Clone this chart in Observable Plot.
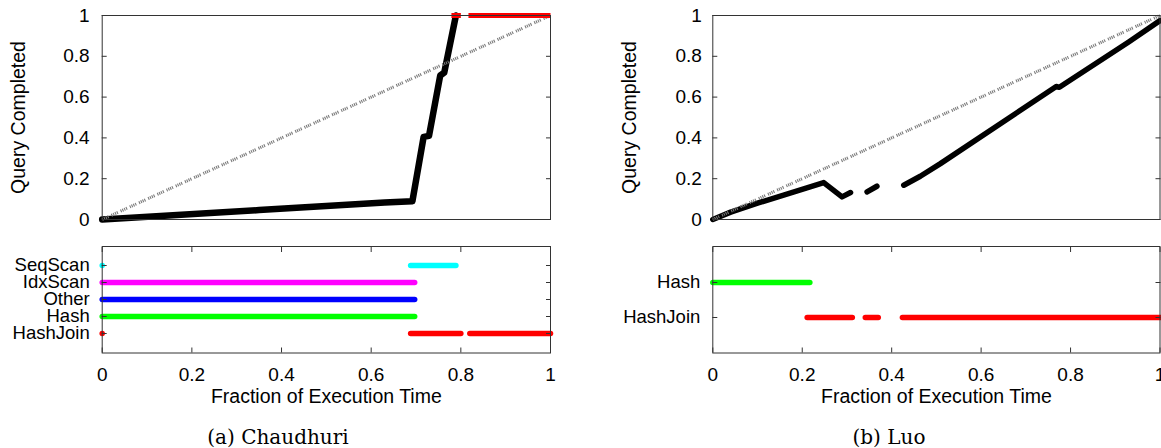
<!DOCTYPE html>
<html><head><meta charset="utf-8">
<script src="https://cdn.jsdelivr.net/npm/d3@7"></script>
<script src="https://cdn.jsdelivr.net/npm/@observablehq/plot@0.6"></script>
<style>
html,body{margin:0;padding:0;background:#fff;overflow:hidden;}
#root{position:relative;width:1161px;height:448px;overflow:hidden;background:#fff;}
.panel{position:absolute;}
.panel svg{display:block;overflow:visible;max-width:none !important;}
.caption{position:absolute;font-family:"DejaVu Serif",serif;font-size:20px;line-height:20px;color:#000;transform:translateX(-50%);white-space:nowrap;}
</style></head><body><div id="root"></div>
<script>
// ---- data ----
const ticks = [0, 0.2, 0.4, 0.6, 0.8, 1];
const diagonal = [0, 1];

const chaudhuriFrac = [0, 0.35, 0.63, 0.692, 0.717, 0.729, 0.754, 0.763, 0.789];
const chaudhuriDone = [0, 0.046, 0.083, 0.09, 0.405, 0.41, 0.706, 0.72, 1];
const chaudhuriFinishStart = [0.779, 0.817];
const chaudhuriFinishEnd = [0.8, 1];

const luoFrac = [0, 0.04, 0.1, 0.248, 0.289, 0.308, 0.345, 0.367, 0.427, 0.464, 0.509, 0.768, 0.775, 0.93, 1];
const luoDone = [0, 0.036, 0.08, 0.181, 0.111, 0.132, 0.135, 0.163, 0.168, 0.212, 0.274, 0.652, 0.648, 0.87, 0.975];
const luoPiece = [0, 0, 0, 0, 0, 0, 1, 1, 2, 2, 2, 2, 2, 2, 2];

const chaudhuriOps = ["SeqScan", "IdxScan", "Other", "Hash", "HashJoin"];
const chaudhuriOpName = ["SeqScan", "SeqScan", "IdxScan", "Other", "Hash", "HashJoin", "HashJoin", "HashJoin"];
const chaudhuriOpStart = [0, 0.688, 0, 0, 0, 0, 0.688, 0.82];
const chaudhuriOpEnd = [0, 0.789, 0.697, 0.697, 0.697, 0, 0.80, 1];

const luoOps = ["Hash", "HashJoin"];
const luoOpName = ["Hash", "HashJoin", "HashJoin", "HashJoin"];
const luoOpStart = [0, 0.211, 0.341, 0.424];
const luoOpEnd = [0.217, 0.312, 0.370, 1];

const yLabel = "Query Completed";
const xLabel = "Fraction of Execution Time";

// ---- styles ----
const opColor = {SeqScan: "#00ffff", IdxScan: "#ff00ff", Other: "#0000ff", Hash: "#00ff00", HashJoin: "#ff0000"};
const FONT = "Liberation Sans, Arial, Helvetica, sans-serif";
const baseStyle = {fontFamily: FONT, fontSize: "19px", color: "#000", background: "transparent", overflow: "visible"};
const fmt = d => String(d);
const blank = () => "";

function queryPlot(o) {
  const data = o.x.map((x, i) => ({x, y: o.y[i], piece: o.piece ? o.piece[i] : 0}));
  const marks = [
    Plot.line(data, {x: "x", y: "y", z: "piece", stroke: "#000", strokeWidth: o.lineWidth, strokeLinecap: "round", strokeLinejoin: "round"}),
    Plot.line(diagonal, {x: d => d, y: d => d, stroke: "#7a7a7a", strokeWidth: 3, strokeLinecap: "butt", strokeDasharray: "1.1,0.9,1.1,0.9,1.1,0.9,1.1,3"})
  ];
  if (o.finishStart) {
    marks.push(Plot.link(o.finishStart, {x1: d => d, x2: (d, i) => o.finishEnd[i], y1: 1, y2: 1, stroke: "#ff0000", strokeWidth: 5}));
  }
  marks.push(
    Plot.frame({stroke: "#333"}),
    Plot.axisY({ticks, anchor: "left", tickSize: 5, dx: 5, tickFormat: blank, stroke: "#333", label: null}),
    Plot.axisY({ticks, anchor: "right", tickSize: 5, dx: -5, tickFormat: blank, stroke: "#333", label: null}),
    Plot.axisY({ticks, anchor: "left", tickSize: 0, tickPadding: o.pad, tickFormat: fmt, label: null}),
    Plot.text([yLabel], {frameAnchor: "left", text: d => d, rotate: -90, dx: -83, fontSize: 19.5, textAnchor: "middle"})
  );
  return Plot.plot({
    width: o.width, height: 230,
    marginLeft: o.marginLeft, marginRight: o.marginRight, marginTop: 15, marginBottom: 11,
    x: {domain: [0, 1], axis: null}, y: {domain: [0, 1]},
    style: baseStyle,
    marks
  });
}

function opPlot(o) {
  const segs = o.name.map((n, i) => ({op: n, s: o.start[i], e: o.end[i]}));
  return Plot.plot({
    width: o.width, height: 190,
    marginLeft: o.marginLeft, marginRight: o.marginRight, marginTop: 16, marginBottom: 67.5,
    x: {domain: [0, 1]},
    y: {type: "point", domain: o.ops, padding: 1},
    color: {type: "identity"},
    style: baseStyle,
    marks: [
      Plot.link(segs, {x1: "s", x2: "e", y1: "op", y2: "op", stroke: d => opColor[d.op], strokeWidth: 5.5, strokeLinecap: "round"}),
      Plot.frame({stroke: "#333"}),
      Plot.axisX({ticks, anchor: "bottom", tickSize: 5, dy: -5, tickFormat: blank, stroke: "#333", label: null}),
      Plot.axisX({ticks, anchor: "top", tickSize: 5, dy: 5, tickFormat: blank, stroke: "#333", label: null}),
      Plot.axisX({ticks, anchor: "bottom", tickSize: 0, tickPadding: 14, tickFormat: fmt, label: null}),
      Plot.axisY({anchor: "left", tickSize: 5, dx: 5, tickFormat: blank, stroke: "#333", label: null}),
      Plot.axisY({anchor: "right", tickSize: 5, dx: -5, tickFormat: blank, stroke: "#333", label: null}),
      Plot.axisY({anchor: "left", tickSize: 0, tickPadding: 12.5, fontSize: 18.5, label: null}),
      Plot.text([xLabel], {frameAnchor: "bottom", text: d => d, dy: 49.5, fontSize: 19.5, textAnchor: "middle"})
    ]
  });
}

function place(node, left, top, width) {
  const d = document.createElement("div");
  d.className = "panel";
  d.style.left = left + "px";
  d.style.top = top + "px";
  d.style.width = width + "px";
  d.appendChild(node);
  document.getElementById("root").appendChild(d);
}
function caption(text, cx, top) {
  const d = document.createElement("div");
  d.className = "caption";
  d.style.left = cx + "px";
  d.style.top = top + "px";
  d.textContent = text;
  document.getElementById("root").appendChild(d);
}

// Panel (a)
place(queryPlot({x: chaudhuriFrac, y: chaudhuriDone, finishStart: chaudhuriFinishStart, finishEnd: chaudhuriFinishEnd,
  width: 580, marginLeft: 101.7, marginRight: 30, pad: 12.5, lineWidth: 6.5}), 0, 0, 580);
place(opPlot({name: chaudhuriOpName, start: chaudhuriOpStart, end: chaudhuriOpEnd, ops: chaudhuriOps,
  width: 580, marginLeft: 101.7, marginRight: 30}), 0, 230, 580);
caption("(a) Chaudhuri", 278, 427);

// Panel (b)
place(queryPlot({x: luoFrac, y: luoDone, piece: luoPiece,
  width: 620, marginLeft: 132.3, marginRight: 40.5, pad: 11, lineWidth: 5.5}), 580, 0, 620);
place(opPlot({name: luoOpName, start: luoOpStart, end: luoOpEnd, ops: luoOps,
  width: 620, marginLeft: 132.3, marginRight: 40.5}), 580, 230, 620);
caption("(b) Luo", 889, 427);
</script>
</body></html>
